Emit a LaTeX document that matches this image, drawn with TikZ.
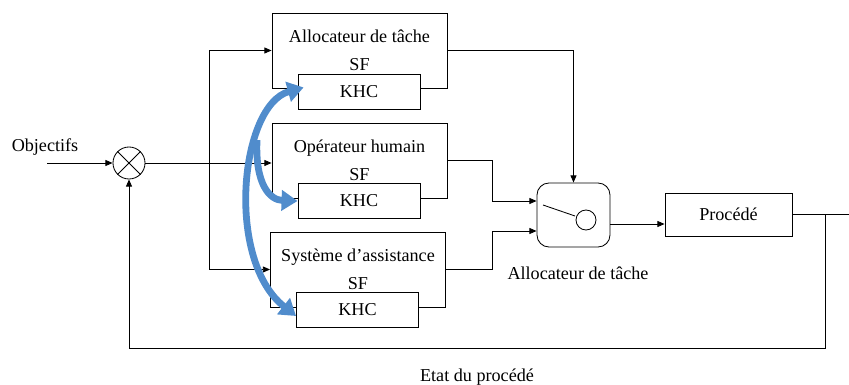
\documentclass[tikz,border=0pt]{standalone}
\usepackage{fontspec}
\setmainfont{Liberation Serif}
\usetikzlibrary{positioning,arrows.meta}
\definecolor{khcblue}{RGB}{80,140,204}
\tikzstyle{txt} = [font=\fontsize{12.9}{19.9}\selectfont]
\tikzstyle{block} = [draw, txt, align=center, minimum width=4.375cm, minimum height=1.875cm]
\tikzstyle{khc} = [draw, txt, fill=white, minimum width=3.05cm, minimum height=0.875cm]
\tikzstyle{arr} = [-{Triangle[length=1.8mm,width=1.5mm]}]
\tikzstyle{khcarr} = [draw=khcblue, line width=1.7mm]

\begin{document}
\begin{tikzpicture}[x=0.025cm, y=-0.025cm, line width=0.6pt]
			\useasboundingbox (0,0) rectangle (849,385);
			\node[draw, circle, minimum size=0.8cm] (sum) at (129,163) {};
			\draw (sum.north west) -- (sum.south east) (sum.north east) -- (sum.south west);
			\node[txt] (obj) at (45,147) {Objectifs};
			\coordinate (in) at (47,163);
			\node[block] (alloc) at (359.5,50.5) {Allocateur de tâche\\SF};
			\node[block] (opr) at (359.5,160.5) {Opérateur humain\\SF};
			\node[block] (assist) at (358,269.5) {Système d’assistance\\SF};
			\node[khc] (khc1) at (359,91.5) {KHC};
			\node[khc] (khc2) at (359,201) {KHC};
			\node[khc] (khc3) at (357.5,310) {KHC};
			\node[draw, rounded corners=0.3cm, minimum width=1.825cm, minimum height=1.6cm] (sw) at (573.5,215) {};
			\draw (543,205) -- (575,216);
			\draw (586,220) circle[radius=0.25cm];
			\node[txt] (swlabel) at (578,273) {Allocateur de tâche};
			\node[draw, txt, minimum width=3.175cm, minimum height=1.075cm] (proc) at (728.5,214.5) {Procédé};
			\node[txt] (state) at (477,377) {Etat du procédé};
			\coordinate (bus) at (209,163);
			\coordinate (fb) at (825,214.5);
			\coordinate (fbb) at (825,348);
			\coordinate (out) at (849,214.5);
			\coordinate (fork) at (257,140);
			\draw[arr] (in) -- (sum.west);
			\draw[arr] (sum.east) -- (sum.east -| opr.west);
			\draw[arr] (bus) |- (alloc.west);
			\draw[arr] (bus) |- (assist.west);
			\draw[arr] (alloc.east) -| (sw.north);
			\draw[arr] (opr.east) -- ++(45,0) |- ([yshift=0.35cm]sw.west);
			\draw[arr] (assist.east) -- ++(46,0) |- ([yshift=-0.4cm]sw.west);
			\draw[arr] ([yshift=-0.225cm]sw.east) -- ([yshift=-0.225cm]sw.east -| proc.west);
			\draw (proc.east) -- (out);
			\draw[arr] (fb) -- (fbb) -| (sum.south);
			\draw[khcarr, {Triangle[length=4mm,width=5mm]}-{Triangle[length=4mm,width=5mm]}] ([shift={(0.15cm,0.1cm)}]khc1.west) .. controls (240,105) and (225,260) .. ([yshift=-0.15cm]khc3.west);
			\draw[khcarr, -{Triangle[length=4mm,width=5mm]}] (fork) .. controls (255,185) and (270,200) .. (khc2.west);
		\end{tikzpicture}
\end{document}
